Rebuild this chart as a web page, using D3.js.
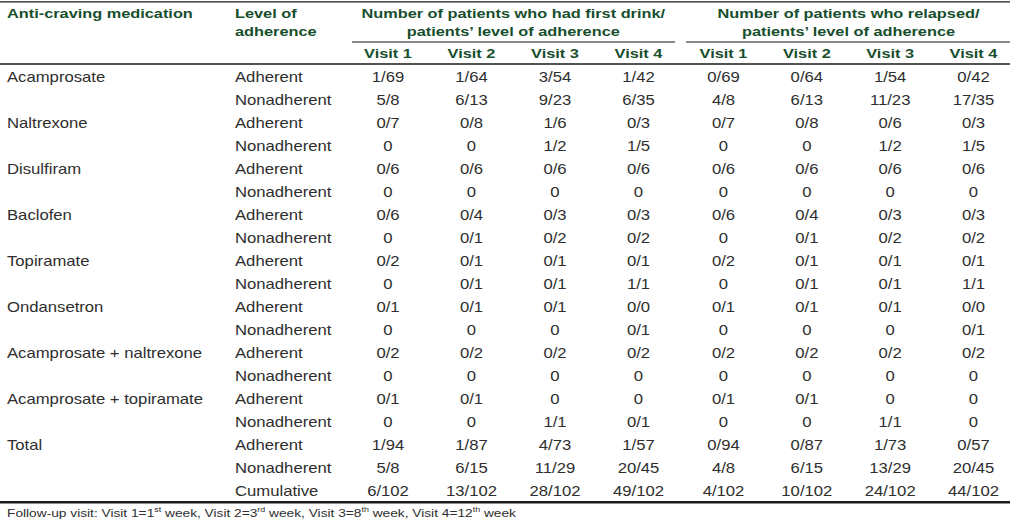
<!DOCTYPE html>
<html><head><meta charset="utf-8">
<script src="https://cdn.jsdelivr.net/npm/d3@7/dist/d3.min.js"></script>
<style>
html,body{margin:0;padding:0;background:#fff;}
svg{display:block;}
text{font-family:"Liberation Sans",Arial,sans-serif;}
</style></head>
<body>
<svg id="chart" width="1010" height="521"></svg>
<script>
const medications = ["Acamprosate","Naltrexone","Disulfiram","Baclofen","Topiramate","Ondansetron","Acamprosate + naltrexone","Acamprosate + topiramate","Total"];
const levels = ["Adherent","Nonadherent","Adherent","Nonadherent","Adherent","Nonadherent","Adherent","Nonadherent","Adherent","Nonadherent","Adherent","Nonadherent","Adherent","Nonadherent","Adherent","Nonadherent","Adherent","Nonadherent","Cumulative"];
const rowMedication = ["Acamprosate","","Naltrexone","","Disulfiram","","Baclofen","","Topiramate","","Ondansetron","","Acamprosate + naltrexone","","Acamprosate + topiramate","","Total","",""];
const visits = ["Visit 1","Visit 2","Visit 3","Visit 4"];
const groups = ["Number of patients who had first drink/|patients\u2019 level of adherence","Number of patients who relapsed/|patients\u2019 level of adherence"];
const firstDrink = [
 ["1/69","1/64","3/54","1/42"],
 ["5/8","6/13","9/23","6/35"],
 ["0/7","0/8","1/6","0/3"],
 ["0","0","1/2","1/5"],
 ["0/6","0/6","0/6","0/6"],
 ["0","0","0","0"],
 ["0/6","0/4","0/3","0/3"],
 ["0","0/1","0/2","0/2"],
 ["0/2","0/1","0/1","0/1"],
 ["0","0/1","0/1","1/1"],
 ["0/1","0/1","0/1","0/0"],
 ["0","0","0","0/1"],
 ["0/2","0/2","0/2","0/2"],
 ["0","0","0","0"],
 ["0/1","0/1","0","0"],
 ["0","0","1/1","0/1"],
 ["1/94","1/87","4/73","1/57"],
 ["5/8","6/15","11/29","20/45"],
 ["6/102","13/102","28/102","49/102"]
];
const relapsed = [
 ["0/69","0/64","1/54","0/42"],
 ["4/8","6/13","11/23","17/35"],
 ["0/7","0/8","0/6","0/3"],
 ["0","0","1/2","1/5"],
 ["0/6","0/6","0/6","0/6"],
 ["0","0","0","0"],
 ["0/6","0/4","0/3","0/3"],
 ["0","0/1","0/2","0/2"],
 ["0/2","0/1","0/1","0/1"],
 ["0","0/1","0/1","1/1"],
 ["0/1","0/1","0/1","0/0"],
 ["0","0","0","0/1"],
 ["0/2","0/2","0/2","0/2"],
 ["0","0","0","0"],
 ["0/1","0/1","0","0"],
 ["0","0","1/1","0"],
 ["0/94","0/87","1/73","0/57"],
 ["4/8","6/15","13/29","20/45"],
 ["4/102","10/102","24/102","44/102"]
];
const headers = ["Anti-craving medication","Level of|adherence"];
const footnote = "Follow-up visit: Visit 1=1|st| week, Visit 2=3|rd| week, Visit 3=8|th| week, Visit 4=12|th| week";

const svg = d3.select("#chart");
const W = 1010;
const SX = 1.2;          // horizontal stretch of the reference typography
const FS = 13.9, HFS = 13.6;
const green = "#174e2d", ink = "#2e2e2e";

const rowIdx = d3.range(levels.length);
const y = d3.scaleLinear().domain([0, levels.length - 1]).range([82, 496]);
const colFD = d3.scaleLinear().domain([0, 3]).range([388, 638.5]);
const colRL = d3.scaleLinear().domain([0, 3]).range([723.5, 973.5]);

function txt(g, x, yy, s, anchor, opts = {}) {
  return g.append("text")
    .attr("transform", `translate(${x},${yy}) scale(${opts.sx || SX},1)`)
    .attr("text-anchor", anchor)
    .attr("font-size", opts.fs || FS)
    .attr("font-weight", opts.bold ? "bold" : "normal")
    .attr("fill", opts.fill || ink)
    .text(s);
}
function line(x1, x2, yy, w) {
  svg.append("line").attr("x1", x1).attr("x2", x2).attr("y1", yy).attr("y2", yy)
    .attr("stroke", "#1a1a1a").attr("stroke-width", w);
}

// rules
line(0, W, 1.8, 1.2);
line(0, W, 64, 1.3);
line(352, 675, 42, 1.1);
line(686, W, 42, 1.1);
line(0, W, 502.3, 2.6);

// header
const hg = svg.append("g");
const hopt = { bold: true, fill: green, fs: HFS };
txt(hg, 7, 17.5, headers[0], "start", hopt);
headers[1].split("|").forEach((s, i) => txt(hg, 235, 17.5 + i * 18, s, "start", hopt));
groups.forEach((gtxt, gi) => {
  const sc = gi === 0 ? colFD : colRL;
  const cx = (sc(0) + sc(3)) / 2;
  gtxt.split("|").forEach((s, i) => txt(hg, cx, 17.5 + i * 18, s, "middle", hopt));
  visits.forEach((v, vi) => txt(hg, sc(vi), 58, v, "middle", hopt));
});

// body
const bg = svg.append("g");
rowIdx.forEach(i => {
  if (rowMedication[i]) txt(bg, 7, y(i), rowMedication[i], "start");
  txt(bg, 235, y(i), levels[i], "start");
  firstDrink[i].forEach((v, j) => txt(bg, colFD(j), y(i), v, "middle"));
  relapsed[i].forEach((v, j) => txt(bg, colRL(j), y(i), v, "middle"));
});

// footnote with superscripts
const parts = footnote.split("|");
const ft = svg.append("text")
  .attr("transform", `translate(7,517) scale(${SX},1)`)
  .attr("font-size", 11.45).attr("fill", ink);
parts.forEach((p, i) => {
  const sup = i % 2 === 1;
  ft.append("tspan").text(p)
    .attr("font-size", sup ? 7.4 : 11.45)
    .attr("baseline-shift", sup ? "4.5" : null);
});
</script>
</body></html>
